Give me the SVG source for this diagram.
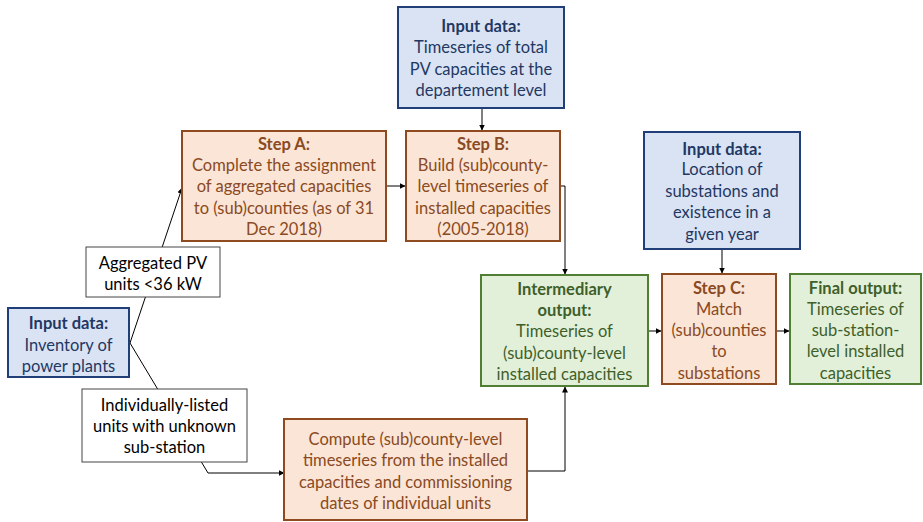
<svg xmlns="http://www.w3.org/2000/svg" width="923" height="522" viewBox="0 0 923 522">
<defs>
<marker id="arr" markerWidth="6" markerHeight="6" refX="5.5" refY="3" orient="auto" markerUnits="userSpaceOnUse">
<path d="M0,0 L6,3 L0,6 Z" fill="#000"/>
</marker>
<style>
text{font-family:Lato,"Liberation Sans",sans-serif;font-size:16.5px;text-anchor:middle}
.b{font-weight:bold}
.blue rect{fill:#dae3f3;stroke:#203e78;stroke-width:2}
.blue text{fill:#1f3864}
.org rect{fill:#fbe5d6;stroke:#8f4a20;stroke-width:2}
.org text{fill:#8a4a23}
.grn rect{fill:#e2f0d9;stroke:#507e32;stroke-width:2}
.grn text{fill:#3f5f2a}
.wht rect{fill:#fff;stroke:#444;stroke-width:1}
.wht text{fill:#000}
.con path{fill:none;stroke:#000;stroke-width:1}
</style>
</defs>
<rect width="923" height="522" fill="#fff"/>
<g id="connectors" class="con">
<path d="M482,108 V130" marker-end="url(#arr)"/>
<path d="M386,186 H405" marker-end="url(#arr)"/>
<path d="M560,186 H565 V274" marker-end="url(#arr)"/>
<path d="M130,343 L182,188" marker-end="url(#arr)"/>
<path d="M130,343 L208,473 H284" marker-end="url(#arr)"/>
<path d="M527,471 H565 V387" marker-end="url(#arr)"/>
<path d="M648,331 H661" marker-end="url(#arr)"/>
<path d="M776,331 H789" marker-end="url(#arr)"/>
<path d="M722,249 V273" marker-end="url(#arr)"/>
</g>
<g id="input-dept" class="blue">
<rect x="398" y="7" width="166" height="101"/>
<text x="481" y="31.5" class="b">Input data:</text>
<text x="481" y="53">Timeseries of total</text>
<text x="481" y="74.5">PV capacities at the</text>
<text x="481" y="96">departement level</text>
</g>
<g id="step-a" class="org">
<rect x="182" y="131" width="204" height="110"/>
<text x="284" y="150" class="b">Step A:</text>
<text x="284" y="171">Complete the assignment</text>
<text x="284" y="192">of aggregated capacities</text>
<text x="284" y="213.5">to (sub)counties (as of 31</text>
<text x="284" y="235">Dec 2018)</text>
</g>
<g id="step-b" class="org">
<rect x="406" y="131" width="154" height="110"/>
<text x="483" y="150" class="b">Step B:</text>
<text x="483" y="171">Build (sub)county-</text>
<text x="483" y="192">level timeseries of</text>
<text x="483" y="213.5">installed capacities</text>
<text x="483" y="235">(2005-2018)</text>
</g>
<g id="input-location" class="blue">
<rect x="644" y="132" width="156" height="117"/>
<text x="722" y="154.5" class="b">Input data:</text>
<text x="722" y="175">Location of</text>
<text x="722" y="196.5">substations and</text>
<text x="722" y="217.5">existence in a</text>
<text x="722" y="239.5">given year</text>
</g>
<g id="label-aggregated" class="wht">
<rect x="86" y="247" width="134" height="50"/>
<text x="153" y="269">Aggregated PV</text>
<text x="153" y="290">units &lt;36 kW</text>
</g>
<g id="input-inventory" class="blue">
<rect x="8" y="308" width="121" height="69"/>
<text x="68.5" y="329" class="b">Input data:</text>
<text x="68.5" y="350.5">Inventory of</text>
<text x="68.5" y="372">power plants</text>
</g>
<g id="label-individual" class="wht">
<rect x="82" y="389" width="165" height="73"/>
<text x="164.5" y="411">Individually-listed</text>
<text x="164.5" y="432">units with unknown</text>
<text x="164.5" y="453">sub-station</text>
</g>
<g id="step-compute" class="org">
<rect x="284" y="419" width="243" height="101"/>
<text x="405.5" y="445">Compute (sub)county-level</text>
<text x="405.5" y="466">timeseries from the installed</text>
<text x="405.5" y="488">capacities and commissioning</text>
<text x="405.5" y="509">dates of individual units</text>
</g>
<g id="intermediary-output" class="grn">
<rect x="481" y="275" width="167" height="111"/>
<text x="564.5" y="295" class="b">Intermediary</text>
<text x="564.5" y="315.5" class="b">output:</text>
<text x="564.5" y="337">Timeseries of</text>
<text x="564.5" y="359">(sub)county-level</text>
<text x="564.5" y="380">installed capacities</text>
</g>
<g id="step-c" class="org">
<rect x="662" y="274" width="114" height="110"/>
<text x="719" y="294" class="b">Step C:</text>
<text x="719" y="314.5">Match</text>
<text x="719" y="336">(sub)counties</text>
<text x="719" y="357">to</text>
<text x="719" y="378.5">substations</text>
</g>
<g id="final-output" class="grn">
<rect x="790" y="274" width="131" height="110"/>
<text x="855.5" y="294" class="b">Final output:</text>
<text x="855.5" y="314.5">Timeseries of</text>
<text x="855.5" y="336">sub-station-</text>
<text x="855.5" y="357">level installed</text>
<text x="855.5" y="378.5">capacities</text>
</g>
</svg>
